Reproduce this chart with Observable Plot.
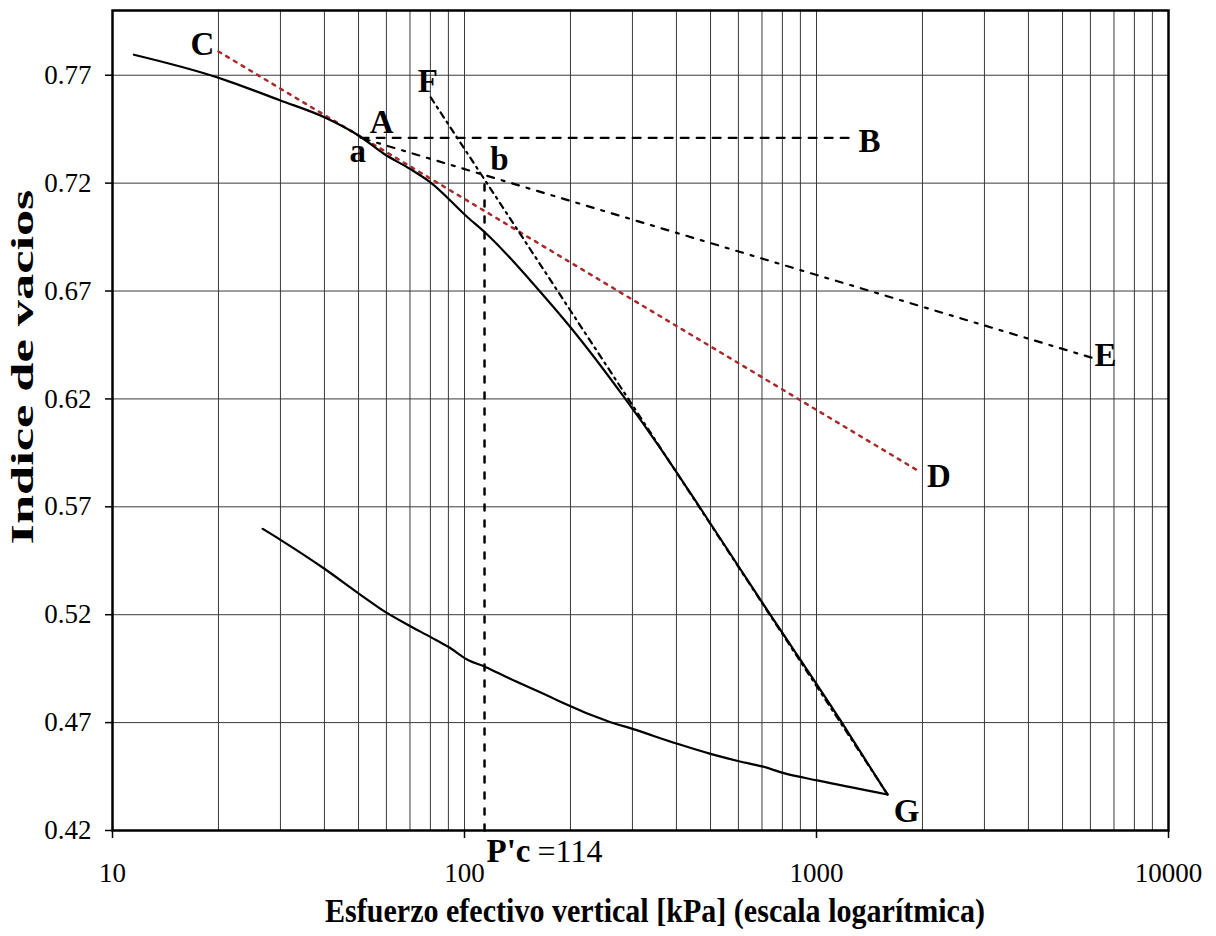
<!DOCTYPE html>
<html>
<head>
<meta charset="utf-8">
<script src="https://cdn.jsdelivr.net/npm/d3@7"></script>
<script src="https://cdn.jsdelivr.net/npm/@observablehq/plot@0.6"></script>
<style>
  body { margin: 0; background: #fff; }
  #chart svg { display: block; }
</style>
</head>
<body>
<div id="chart"></div>
<script>
// Oedometer test: loading branch (effective vertical stress [kPa], void ratio)
const loadStress = [11.5, 20, 21.7, 30, 40, 50.5, 59, 70, 80, 102, 115, 165, 200, 284, 361, 469, 700, 1170, 1590];
const loadVoid   = [0.7795, 0.7688, 0.7668, 0.7583, 0.7505, 0.7416, 0.7336, 0.7266, 0.7204, 0.7042, 0.6968, 0.6692, 0.6532, 0.6208, 0.5969, 0.5691, 0.5258, 0.471, 0.4367];

// Unloading branch
const unloadStress = [26.7, 30, 40, 50.2, 59.7, 69.6, 80.2, 90.4, 102, 115, 132, 180, 188, 260, 300, 402, 500, 602, 700, 808, 1005, 1590];
const unloadVoid   = [0.5598, 0.5547, 0.5413, 0.5297, 0.5212, 0.515, 0.5096, 0.5049, 0.4991, 0.4957, 0.491, 0.481, 0.4795, 0.4702, 0.4671, 0.4602, 0.4555, 0.4521, 0.4497, 0.4466, 0.4432, 0.4367];

// Casagrande construction
const cdStress = [20, 1930];        // tangent at point of maximum curvature (C-D)
const cdVoid   = [0.781, 0.587];
const abStress = [50.7, 1290];      // horizontal through A (A-B)
const abVoid   = [0.741, 0.741];
const aeStress = [51.4, 6080];      // bisector (a-E)
const aeVoid   = [0.7407, 0.639];
const fgStress = [80.2, 1592];      // virgin compression line (F-G)
const fgVoid   = [0.7597, 0.4367];
const pcStress = 114;               // preconsolidation pressure P'c
const pcVoid   = 0.7227;

// Axis ticks
const yTicks = [0.42, 0.47, 0.52, 0.57, 0.62, 0.67, 0.72, 0.77];
const xTicks = [10, 100, 1000, 10000];

const serif = "'Liberation Serif', 'Times New Roman', serif";
const zipXY = (xs, ys) => xs.map((x, i) => ({x, y: ys[i]}));
const loading = zipXY(loadStress, loadVoid);
const unloading = zipXY(unloadStress, unloadVoid);
const lineCD = zipXY(cdStress, cdVoid);
const lineAB = zipXY(abStress, abVoid);
const lineAE = zipXY(aeStress, aeVoid);
const lineFG = zipXY(fgStress, fgVoid);
const pcLine = [{x: pcStress, y: 0.42}, {x: pcStress, y: pcVoid}];

// Minor log grid: 1..9 × each decade
const gridStress = [10, 100, 1000].flatMap(d => d3.range(1, 10).map(k => k * d)).concat([10000]);

// Construction point labels, each anchored on the point it names
const labels = [
  {t: "C", x: cdStress[0], y: cdVoid[0], dx: -16, dy: -7},
  {t: "A", x: abStress[0], y: abVoid[0], dx: 21, dy: -15},
  {t: "a", x: abStress[0], y: abVoid[0], dx: -3, dy: 14},
  {t: "F", x: fgStress[0], y: fgVoid[0], dx: -3, dy: -16},
  {t: "b", x: pcStress, y: pcVoid, dx: 15, dy: -18},
  {t: "B", x: abStress[1], y: abVoid[1], dx: 14, dy: 4},
  {t: "E", x: aeStress[1], y: aeVoid[1], dx: 13, dy: -2},
  {t: "D", x: cdStress[1], y: cdVoid[1], dx: 22, dy: 6},
  {t: "G", x: fgStress[1], y: fgVoid[1], dx: 19, dy: 17}
];
const labelMarks = labels.map(d =>
  Plot.text([d], {x: "x", y: "y", text: "t", dx: d.dx, dy: d.dy, fontSize: 33, fontWeight: "bold", fill: "#000", fontFamily: serif})
);

const plot = Plot.plot({
  width: 1216,
  height: 936,
  marginLeft: 112,
  marginRight: 48,
  marginTop: 10,
  marginBottom: 106,
  style: {fontFamily: serif, fontSize: "27px", color: "#000", background: "#fff"},
  x: {type: "log", domain: [10, 10000]},
  y: {domain: [0.42, 0.80]},
  marks: [
    Plot.ruleX(gridStress, {stroke: "#3a3a3a", strokeWidth: 1, strokeOpacity: 1}),
    Plot.ruleY(yTicks, {stroke: "#3a3a3a", strokeWidth: 1, strokeOpacity: 1}),
    Plot.axisY({ticks: yTicks, tickFormat: d => d.toFixed(2), tickSize: 7, tickPadding: 14, fontSize: 27, fontFamily: serif, fontVariant: "normal", label: null, strokeWidth: 1.5}),
    Plot.axisX({ticks: xTicks, tickFormat: d3.format("d"), tickSize: 8, tickPadding: 24, fontSize: 27, fontFamily: serif, fontVariant: "normal", label: null, strokeWidth: 1.5}),
    // construction lines
    Plot.line(lineCD, {x: "x", y: "y", stroke: "#a82a2a", strokeWidth: 2.5, strokeDasharray: "3,6"}),
    Plot.line(lineAB, {x: "x", y: "y", stroke: "#000", strokeWidth: 2.2, strokeDasharray: "8,8"}),
    Plot.line(lineAE, {x: "x", y: "y", stroke: "#000", strokeWidth: 2.2, strokeDasharray: "7,8,3,8"}),
    Plot.line(lineFG, {x: "x", y: "y", stroke: "#000", strokeWidth: 2.2, strokeDasharray: "6,5,2,5"}),
    Plot.line(pcLine, {x: "x", y: "y", stroke: "#000", strokeWidth: 2.5, strokeDasharray: "6,10"}),
    // compressibility curve
    Plot.line(loading, {x: "x", y: "y", stroke: "#000", strokeWidth: 2.2, curve: "monotone-x"}),
    Plot.line(unloading, {x: "x", y: "y", stroke: "#000", strokeWidth: 2.2, curve: "monotone-x"}),
    Plot.frame({stroke: "#000", strokeWidth: 2.5}),
    ...labelMarks,
    Plot.text([{x: pcStress, y: 0.42}], {x: "x", y: "y", text: () => "P'c", dx: 24, dy: 21, fontSize: 33, fontWeight: "bold", fill: "#000", fontFamily: serif}),
    Plot.text([{x: pcStress, y: 0.42}], {x: "x", y: "y", text: () => "=" + pcStress, dx: 53, dy: 21, textAnchor: "start", fontSize: 32, fill: "#000", fontFamily: serif})
  ]
});

const svg = d3.select(plot);
// Axis titles
svg.append("text")
  .attr("transform", "translate(33,367) rotate(-90)")
  .attr("text-anchor", "middle")
  .attr("font-family", serif)
  .attr("font-weight", "bold")
  .attr("font-size", 32)
  .attr("fill", "#000")
  .attr("textLength", 355)
  .attr("lengthAdjust", "spacingAndGlyphs")
  .text("Indice de vacios");
svg.append("text")
  .attr("transform", "translate(655,922)")
  .attr("text-anchor", "middle")
  .attr("font-family", serif)
  .attr("font-weight", "bold")
  .attr("font-size", 34)
  .attr("fill", "#000")
  .attr("textLength", 660)
  .attr("lengthAdjust", "spacingAndGlyphs")
  .text("Esfuerzo efectivo vertical [kPa] (escala logarítmica)");

document.getElementById("chart").append(plot);
</script>
</body>
</html>
